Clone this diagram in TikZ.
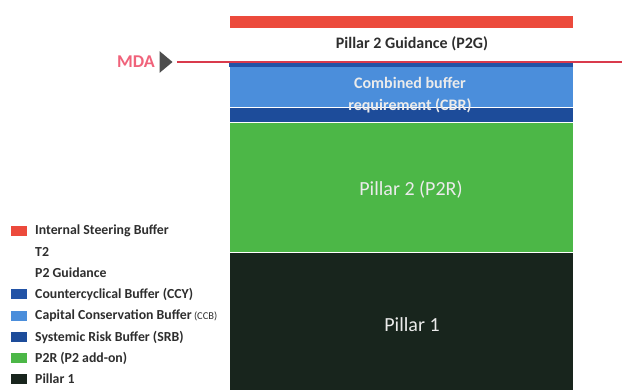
\documentclass[tikz,border=0pt]{standalone}
\usepackage{fontspec}
\setmainfont{Carlito}
\usetikzlibrary{positioning,shapes.geometric}
\definecolor{isbred}{HTML}{EC4A3C}
\definecolor{mdapink}{HTML}{F0627A}
\definecolor{mdaline}{HTML}{D93A4C}
\definecolor{ccyblue}{HTML}{2253A6}
\definecolor{ccbblue}{HTML}{4B8EDB}
\definecolor{srbblue}{HTML}{1D4C9A}
\definecolor{pgreen}{HTML}{4CB747}
\definecolor{pdark}{HTML}{18251D}
\definecolor{txtgray}{HTML}{2E2E2E}

\begin{document}
\begin{tikzpicture}[x=1pt,y=-1pt,
    bar/.style={draw=white,line width=0.8pt,minimum width=344pt,inner sep=0pt,anchor=north west},
    bartext/.style={text=white!92!black,align=center,font=\fontsize{16}{22}\selectfont\bfseries},
    bigtext/.style={text=white!92!black,font=\fontsize{20}{24}\selectfont},
    key/.style={minimum width=16pt,minimum height=10pt,inner sep=0pt},
    keytext/.style={anchor=west,inner sep=0pt,text=txtgray,font=\fontsize{13.8}{15}\selectfont\bfseries}]
    \useasboundingbox (0,0) rectangle (622,389);
    % stack of buffers
    \node[bar,fill=isbred,minimum height=13pt](isb) at (229,15) {};
    \node[bar,fill=pdark,minimum height=140pt](pone) at (229,252) {};
    \node[bar,fill=pgreen,minimum height=130pt](ptwo) at (229,122) {};
    \node[bar,fill=srbblue,minimum height=15pt](srb) at (229,107) {};
    \node[bar,fill=ccbblue,minimum height=41pt](ccb) at (229,66) {};
    \node[bar,draw=none,fill=ccyblue,minimum height=5pt](ccy) at (229,62) {};
    \node[bartext,text=txtgray](ptwog) at (412,44) {Pillar 2 Guidance (P2G)};
    \node[bartext](cbr) at (410,95) {Combined buffer\\requirement (CBR)};
    \node[bigtext](ptwor) at (411,190) {Pillar 2 (P2R)};
    \node[bigtext](poneT) at (412,325) {Pillar 1};
    % MDA trigger
    \node[text=mdapink,font=\fontsize{18}{20}\selectfont\bfseries](mda) at (136,62) {MDA};
    \node[isosceles triangle,isosceles triangle apex angle=80,fill=txtgray!85,inner sep=0pt,
          minimum height=13pt,minimum width=13pt,right=1pt of mda](mdatip) {};
    \coordinate (mdaend) at (622,62);
    \draw[mdaline,line width=1.2pt] ([xshift=4pt]mdatip.east) -- (mdaend);
    % legend
    \node[keytext](tisb) at (35,231) {Internal Steering Buffer};
    \node[keytext](ttwo) at (35,252) {T2};
    \node[keytext](tptwog) at (35,273) {P2 Guidance};
    \node[keytext](tccy) at (35,294) {Countercyclical Buffer (CCY)};
    \node[keytext](tccb) at (35,316) {Capital Conservation Buffer\,{\mdseries\fontsize{10.5}{12}\selectfont(CCB)}};
    \node[keytext](tsrb) at (35,337) {Systemic Risk Buffer (SRB)};
    \node[keytext](tptwor) at (35,358) {P2R (P2 add-on)};
    \node[keytext](tpone) at (35,379) {Pillar 1};
    \node[key,fill=isbred,left=8pt of tisb](kisb) {};
    \node[key,fill=ccyblue,left=8pt of tccy](kccy) {};
    \node[key,fill=ccbblue,left=8pt of tccb](kccb) {};
    \node[key,fill=srbblue,left=8pt of tsrb](ksrb) {};
    \node[key,fill=pgreen,left=8pt of tptwor](kptwor) {};
    \node[key,fill=pdark,left=8pt of tpone](kpone) {};
\end{tikzpicture}
\end{document}
